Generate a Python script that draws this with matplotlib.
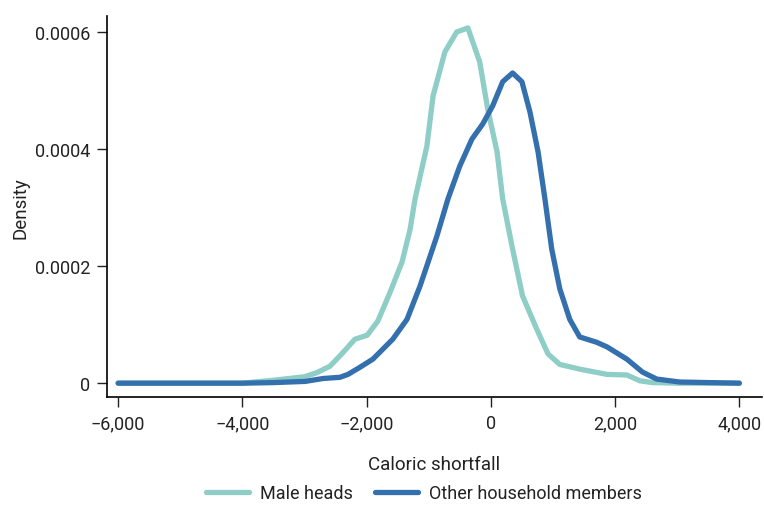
import matplotlib
matplotlib.use('Agg')
import matplotlib.pyplot as plt
from matplotlib.ticker import FuncFormatter

plt.rcParams['font.family'] = ['Roboto', 'DejaVu Sans']

# density curves
male_x = [-6000, -5000, -4000, -3500, -3000, -2800, -2590, -2400, -2190, -1990, -1820,
          -1620, -1430, -1300, -1220, -1030, -930, -740, -550, -370, -180, -50, 100,
          190, 350, 510, 740, 920, 1110, 1430, 1870, 2190, 2400, 2600, 3000, 3500, 4000]
male_y = [0, 0, 0, 0.000005, 0.000011, 0.000018, 0.000029, 0.00005, 0.000075, 0.000082,
          0.000106, 0.000156, 0.000207, 0.000263, 0.000315, 0.000405, 0.000491, 0.000566,
          0.0006, 0.000607, 0.000549, 0.000468, 0.000395, 0.000315, 0.000229, 0.000149,
          0.000092, 0.00005, 0.000032, 0.000024, 0.000015, 0.000014, 0.000004, 0.000001,
          0, 0, 0]

other_x = [-6000, -5000, -4000, -3500, -2990, -2700, -2430, -2300, -2110, -1900, -1580,
           -1350, -1140, -870, -690, -500, -305, -130, 30, 190, 350, 500, 630, 760, 870,
           980, 1110, 1270, 1430, 1700, 1870, 2190, 2440, 2670, 3040, 3500, 4000]
other_y = [0, 0, 0, 0.000001, 0.000003, 0.000008, 0.00001, 0.000015, 0.000027, 0.000041,
           0.000075, 0.000109, 0.000166, 0.000251, 0.000315, 0.000371, 0.000417, 0.000443,
           0.000474, 0.000515, 0.00053, 0.000515, 0.000463, 0.000395, 0.000315, 0.000229,
           0.000161, 0.000109, 0.000079, 0.00007, 0.000062, 0.000041, 0.000019, 0.000007,
           0.000002, 0.000001, 0]

xticks = [-6000, -4000, -2000, 0, 2000, 4000]
yticks = [0, 0.0002, 0.0004, 0.0006]

teal = '#8fcdc7'
blue = '#3470ae'

fig = plt.figure(figsize=(7.64, 5.06), dpi=100)
ax = fig.add_axes([0.140, 0.213, 0.857, 0.753])

ax.plot(male_x, male_y, color=teal, lw=3.8, solid_capstyle='round',
        solid_joinstyle='round', label='Male heads')
ax.plot(other_x, other_y, color=blue, lw=3.8, solid_capstyle='round',
        solid_joinstyle='round', label='Other household members')

ax.set_xlim(-6180, 4360)
ax.set_ylim(-0.000024, 0.000627)
ax.set_xticks(xticks)
ax.set_yticks(yticks)
ax.xaxis.set_major_formatter(FuncFormatter(lambda v, p: f'{v:,.0f}'.replace('-', '\u2212')))
ax.yaxis.set_major_formatter(FuncFormatter(lambda v, p: '0' if v == 0 else f'{v:.4f}'))

for side in ['top', 'right']:
    ax.spines[side].set_visible(False)
for side in ['left', 'bottom']:
    ax.spines[side].set_linewidth(1.2)
ax.tick_params(direction='out', length=7, width=1, labelsize=13, pad=5, colors='#222222')

ax.set_xlabel('Caloric shortfall', fontsize=13.5, labelpad=17, color='#222222')
ax.set_ylabel('Density', fontsize=13.5, labelpad=4, color='#222222')

fig.legend(loc='center', bbox_to_anchor=(0.555, 0.024), ncol=2, frameon=False,
           fontsize=13, handlelength=2.4, columnspacing=1.2, handletextpad=0.6,
           labelcolor='#222222', borderaxespad=0.2, borderpad=0.2)

fig.savefig('out.png', dpi=100)
